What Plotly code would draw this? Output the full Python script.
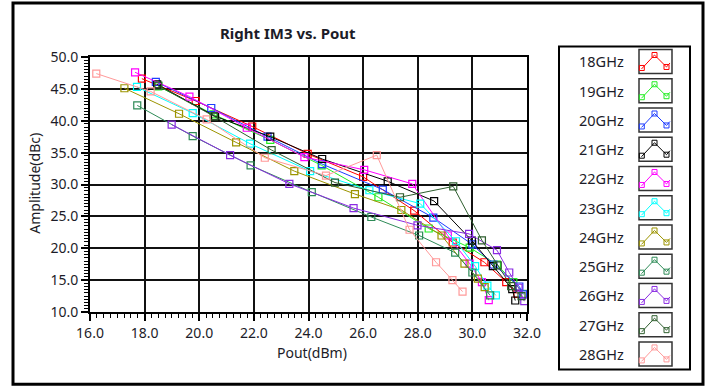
import plotly.graph_objects as go

# ---------------- data ----------------
series_names = ["18GHz", "19GHz", "20GHz", "21GHz", "22GHz", "23GHz",
                "24GHz", "25GHz", "26GHz", "27GHz", "28GHz"]

x18 = [17.9, 19.87, 21.94, 23.97, 26.0, 27.87, 29.28, 30.44, 31.24, 31.65]
y18 = [46.6, 43.1, 39.1, 34.8, 31.2, 25.9, 20.9, 17.8, 14.7, 12.85]

x19 = [18.5, 20.52, 22.6, 24.48, 26.56, 28.4, 29.9, 30.9, 31.5, 31.9]
y19 = [45.4, 41.0, 37.0, 33.0, 28.0, 23.1, 20.1, 17.45, 14.7, 12.85]

x20 = [18.41, 20.44, 22.5, 24.5, 26.72, 28.57, 30.0, 30.77, 31.72, 31.86]
y20 = [46.1, 42.0, 37.5, 33.2, 29.2, 24.8, 20.6, 17.45, 14.0, 12.75]

x21 = [18.46, 20.58, 22.6, 24.5, 26.9, 28.6, 29.98, 30.75, 31.46, 31.57]
y21 = [45.7, 40.7, 37.5, 34.0, 30.5, 27.4, 21.2, 17.2, 13.6, 11.8]

x22 = [17.65, 19.64, 21.74, 23.85, 26.04, 27.8, 29.1, 29.9, 30.35, 30.6]
y22 = [47.6, 43.8, 38.9, 34.3, 32.3, 30.1, 22.0, 17.6, 14.7, 11.85]

x23 = [17.72, 19.76, 21.86, 24.06, 26.23, 28.09, 29.4, 30.1, 30.55, 30.86]
y23 = [45.3, 41.2, 36.4, 32.1, 29.1, 27.0, 21.1, 17.2, 14.15, 12.6]

x24 = [17.26, 19.26, 21.35, 23.48, 25.7, 27.4, 28.87, 29.71, 30.2, 30.45]
y24 = [45.1, 41.1, 36.6, 32.1, 28.5, 26.0, 22.0, 17.6, 15.25, 13.9]

x25 = [17.73, 19.76, 21.88, 24.12, 26.3, 28.05, 29.37, 30.0, 30.65]
y25 = [42.4, 37.6, 33.0, 28.8, 24.9, 22.0, 19.3, 16.2, 12.6]

x26 = [18.99, 21.13, 23.3, 25.65, 27.99, 29.88, 30.9, 31.35, 31.69, 31.9]
y26 = [39.4, 34.6, 30.1, 26.3, 23.6, 22.25, 19.7, 16.2, 13.8, 11.7]

x27 = [18.5, 20.54, 22.65, 24.97, 27.35, 29.3, 30.35, 30.93, 31.42, 31.8]
y27 = [45.5, 40.7, 35.4, 30.3, 28.0, 29.7, 21.25, 17.3, 14.05, 12.5]

x28 = [16.23, 18.22, 20.27, 22.4, 24.64, 26.5, 27.7, 28.67, 29.27, 29.64]
y28 = [47.4, 44.6, 40.2, 34.2, 31.4, 34.6, 22.9, 17.8, 15.0, 13.2]

series_x = [x18, x19, x20, x21, x22, x23, x24, x25, x26, x27, x28]
series_y = [y18, y19, y20, y21, y22, y23, y24, y25, y26, y27, y28]

colors = ["#FF0000", "#22EE22", "#1E3CFF", "#000000", "#FF00FF", "#00FFFF",
          "#9C9400", "#2E8B57", "#8A2BE2", "#2F5F2F", "#FF9999"]

x_ticks = [16, 18, 20, 22, 24, 26, 28, 30, 32]
y_ticks = [10, 15, 20, 25, 30, 35, 40, 45, 50]

# ---------------- layout geometry (pixels) ----------------
W, H = 710, 387
PL, PR, PT, PB = 90, 527, 57, 312.5   # plot area edges in px
PW, PH = PR - PL, PB - PT


def px(xp):
    return (xp - PL) / PW


def py(yp):
    return (PB - yp) / PH


FONT = "Noto Sans, DejaVu Sans, sans-serif"
TXT = "#1c1c28"

fig = go.Figure()
for name, xs, ys, c in zip(series_names, series_x, series_y, colors):
    fig.add_trace(go.Scatter(
        x=xs, y=ys, name=name, mode="lines+markers",
        line=dict(color=c, width=1),
        marker=dict(symbol="square-open", size=7, color=c, line=dict(width=1.2, color=c)),
        showlegend=False,
    ))

axis_common = dict(
    showgrid=True, gridcolor="#111111", gridwidth=1.6,
    showline=True, linecolor="#000000", linewidth=2, mirror=True,
    ticks="outside", ticklen=7, tickwidth=1.5, tickcolor="#000000",
    tickfont=dict(family=FONT, size=14, color=TXT),
    zeroline=False,
)

fig.update_xaxes(range=[16, 32], tickvals=x_ticks,
                 ticktext=[f"{v:.1f}" for v in x_ticks],
                 minor=dict(dtick=0.25, ticks="outside", ticklen=4, tickwidth=1,
                            tickcolor="#000000", showgrid=False),
                 **axis_common)
fig.update_yaxes(range=[10, 50], tickvals=y_ticks,
                 ticktext=[f"{v:.1f}" for v in y_ticks],
                 minor=dict(dtick=0.5, ticks="outside", ticklen=4, tickwidth=1,
                            tickcolor="#000000", showgrid=False),
                 **axis_common)

shapes = []
annotations = []

# outer frame
shapes.append(dict(type="rect", xref="paper", yref="paper",
                   x0=px(13), x1=px(703), y0=py(3), y1=py(385),
                   line=dict(color="#000000", width=3), layer="below"))

# title and axis titles
annotations.append(dict(text="<b>Right IM3 vs. Pout</b>", xref="paper", yref="paper",
                        x=px(288), y=py(33), showarrow=False,
                        font=dict(family=FONT, size=15, color=TXT),
                        xanchor="center", yanchor="middle"))
annotations.append(dict(text="Pout(dBm)", xref="paper", yref="paper",
                        x=px(312), y=py(353), showarrow=False,
                        font=dict(family=FONT, size=14, color=TXT),
                        xanchor="center", yanchor="middle"))
annotations.append(dict(text="Amplitude(dBc)", xref="paper", yref="paper",
                        x=px(35), y=py(183), showarrow=False, textangle=-90,
                        font=dict(family=FONT, size=14, color=TXT),
                        xanchor="center", yanchor="middle"))

# legend box
shapes.append(dict(type="rect", xref="paper", yref="paper",
                   x0=px(559), x1=px(690), y0=py(46.5), y1=py(370),
                   line=dict(color="#000000", width=2)))

row0, step = 61.5, 29.3
for i, (name, c) in enumerate(zip(series_names, colors)):
    cy = row0 + i * step
    annotations.append(dict(text=name, xref="paper", yref="paper",
                            x=px(626), y=py(cy), showarrow=False,
                            font=dict(family=FONT, size=14.5, color=TXT),
                            xanchor="right", yanchor="middle"))
    # icon frame
    shapes.append(dict(type="rect", xref="paper", yref="paper",
                       x0=px(639), x1=px(672), y0=py(cy - 12), y1=py(cy + 12),
                       line=dict(color="#333333", width=1.5)))
    # icon polyline
    pts = [(641.5, cy + 7.5), (654.5, cy - 6.5), (666.5, cy + 5.5), (670, cy + 1.5)]
    path = "M " + " L ".join(f"{px(a):.5f},{py(b):.5f}" for a, b in pts)
    shapes.append(dict(type="path", xref="paper", yref="paper", path=path,
                       line=dict(color=c, width=1)))
    for (mx, my) in [(641.8, cy + 6.5), (654.5, cy - 6.5), (666.5, cy + 5.5)]:
        shapes.append(dict(type="rect", xref="paper", yref="paper",
                           x0=px(mx - 2.5), x1=px(mx + 2.5),
                           y0=py(my - 2.5), y1=py(my + 2.5),
                           line=dict(color=c, width=1), fillcolor="rgba(0,0,0,0)"))

fig.update_layout(
    width=W, height=H,
    margin=dict(l=PL, r=W - PR, t=PT, b=H - PB, autoexpand=False),
    paper_bgcolor="#FFFFFF", plot_bgcolor="#FFFFFF",
    shapes=shapes, annotations=annotations,
    showlegend=False,
    font=dict(family=FONT, color=TXT),
)

fig.write_html("out.html")
